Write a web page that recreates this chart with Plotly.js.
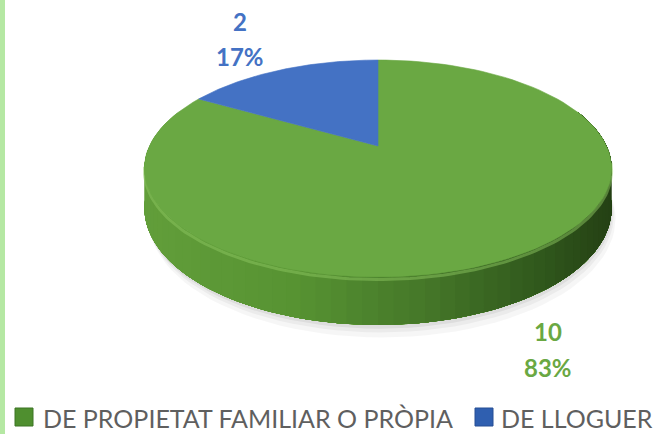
<!DOCTYPE html>
<html>
<head>
<meta charset="utf-8">
<script src="https://cdn.plot.ly/plotly-3.0.1.min.js"></script>
<style>html,body{margin:0;padding:0;background:#fff;}#chart{width:670px;height:434px;}</style>
</head>
<body>
<div id="chart"></div>
<script>
// ---- data ----
const categories = ["DE PROPIETAT FAMILIAR O PRÒPIA", "DE LLOGUER"];
const values = [10, 2];

// ---- style ----
const topColors = ["#6aa843", "#4472c4"];
const labelColors = ["#6aa843", "#4472c4"];
const FONT = "Lato, 'Open Sans', sans-serif";

// ---- projection of a tilted disc (perspective) in pixel-like axis units ----
const cx = 378, cy0 = 146, A = 228.5, B = 103.8, k = 0.2074, T = 38;
function proj(thetaDeg, h) {
  const t = thetaDeg * Math.PI / 180;
  const u = Math.cos(t), v = Math.sin(t);
  const d = 1 + k * v;
  return [cx + A * u / d, cy0 + (-B * v + h) / d];
}
function arc(a0, a1, h, n) {
  const xs = [], ys = [];
  for (let i = 0; i <= n; i++) {
    const p = proj(a0 + (a1 - a0) * i / n, h);
    xs.push(p[0]); ys.push(p[1]);
  }
  return [xs, ys];
}

const total = values.reduce((a, b) => a + b, 0);
const traces = [];

// soft shadow under the disc
[[10, 'rgba(0,0,0,0.035)'], [6, 'rgba(0,0,0,0.045)'], [3, 'rgba(0,0,0,0.06)']].forEach(([off, col]) => {
  const [xs, ys] = arc(0, 360, T + off, 120);
  traces.push({type: 'scatter', mode: 'lines', x: xs.map(x => x + off * 0.4), y: ys, fill: 'toself',
    fillcolor: col, line: {width: 0}, hoverinfo: 'skip', showlegend: false});
});

// side wall: overlapping bands, each covering from its start angle to the right end (no seams)
function lerp(a, b, t) { return a + (b - a) * t; }
function sideColor(x) {
  const stops = [[145, [98, 158, 58]], [300, [86, 146, 50]], [430, [68, 118, 40]], [540, [48, 88, 28]], [612, [36, 64, 20]]];
  if (x <= stops[0][0]) return stops[0][1];
  for (let i = 0; i < stops.length - 1; i++) {
    if (x <= stops[i + 1][0]) {
      const t = (x - stops[i][0]) / (stops[i + 1][0] - stops[i][0]);
      return stops[i][1].map((c, j) => Math.round(lerp(c, stops[i + 1][1][j], t)));
    }
  }
  return stops[stops.length - 1][1];
}
const N = 70, th0 = 160, th1 = 380;
for (let i = 0; i < N; i++) {
  const a0 = th0 + (th1 - th0) * i / N;
  const steps = Math.max(3, Math.round((th1 - a0) / 2));
  const [tx, ty] = arc(a0, th1, 0, steps);
  const [bx, by] = arc(th1, a0, T, steps);
  const mid = proj(a0 + (th1 - th0) / N / 2, 0)[0];
  const c = sideColor(mid);
  const col = `rgb(${c[0]},${c[1]},${c[2]})`;
  traces.push({type: 'scatter', mode: 'lines', x: tx.concat(bx), y: ty.concat(by), fill: 'toself',
    fillcolor: col, line: {width: 0}, hoverinfo: 'skip', showlegend: false});
}
// rim highlight on the wall, just under the top edge
{
  const [xs, ys] = arc(190, 352, 2, 120);
  traces.push({type: 'scatter', mode: 'lines', x: xs, y: ys, line: {width: 3, color: 'rgba(140,198,95,0.5)'},
    hoverinfo: 'skip', showlegend: false});
}

// top face slices: first slice starts at 12 o'clock, clockwise
let start = 90;
values.forEach((v, i) => {
  const sweep = v / total * 360;
  const [xs, ys] = arc(start, start - sweep, 0, 120);
  traces.push({type: 'scatter', mode: 'lines', x: [cx].concat(xs, [cx]), y: [cy0].concat(ys, [cy0]),
    fill: 'toself', fillcolor: topColors[i], line: {width: 0.6, color: topColors[i]}, name: categories[i],
    hoverinfo: 'name', showlegend: false});
  start -= sweep;
});

// data labels
const labelPos = [[548, 331, 367], [240, 21, 56]];
const annotations = [];
values.forEach((v, i) => {
  const pct = Math.round(v / total * 100) + '%';
  annotations.push({x: labelPos[i][0], y: labelPos[i][1], xref: 'x', yref: 'y', text: '<b>' + v + '</b>',
    showarrow: false, font: {family: FONT, size: 24, color: labelColors[i]}, xanchor: 'center', yanchor: 'middle'});
  annotations.push({x: labelPos[i][0], y: labelPos[i][2], xref: 'x', yref: 'y', text: '<b>' + pct + '</b>',
    showarrow: false, font: {family: FONT, size: 24, color: labelColors[i]}, xanchor: 'center', yanchor: 'middle'});
});

// legend
const legendX = [[15, 41], [475, 499]];
const legendSq = ["#4f8f2f", "#2f5fb0"];
const shapes = [
  {type: 'rect', xref: 'x', yref: 'y', x0: 0, x1: 5, y0: 0, y1: 434, fillcolor: '#b5e8a3', line: {width: 0}}
];
categories.forEach((c, i) => {
  shapes.push({type: 'rect', xref: 'x', yref: 'y', x0: legendX[i][0], x1: legendX[i][0] + 18, y0: 408, y1: 426,
    fillcolor: legendSq[i], line: {width: 1, color: i === 0 ? '#3d7424' : '#274f94'}});
  annotations.push({x: legendX[i][1], y: 417.5, xref: 'x', yref: 'y', text: c, showarrow: false,
    xanchor: 'left', yanchor: 'middle', font: {family: FONT, size: 25, color: '#5f5f5f'}});
});

const layout = {
  width: 670, height: 434,
  margin: {l: 0, r: 0, t: 0, b: 0},
  paper_bgcolor: '#ffffff', plot_bgcolor: '#ffffff',
  xaxis: {range: [0, 670], visible: false, fixedrange: true},
  yaxis: {range: [434, 0], visible: false, fixedrange: true},
  showlegend: false,
  shapes: shapes,
  annotations: annotations
};
Plotly.newPlot('chart', traces, layout, {displayModeBar: false, staticPlot: true});
</script>
</body>
</html>
